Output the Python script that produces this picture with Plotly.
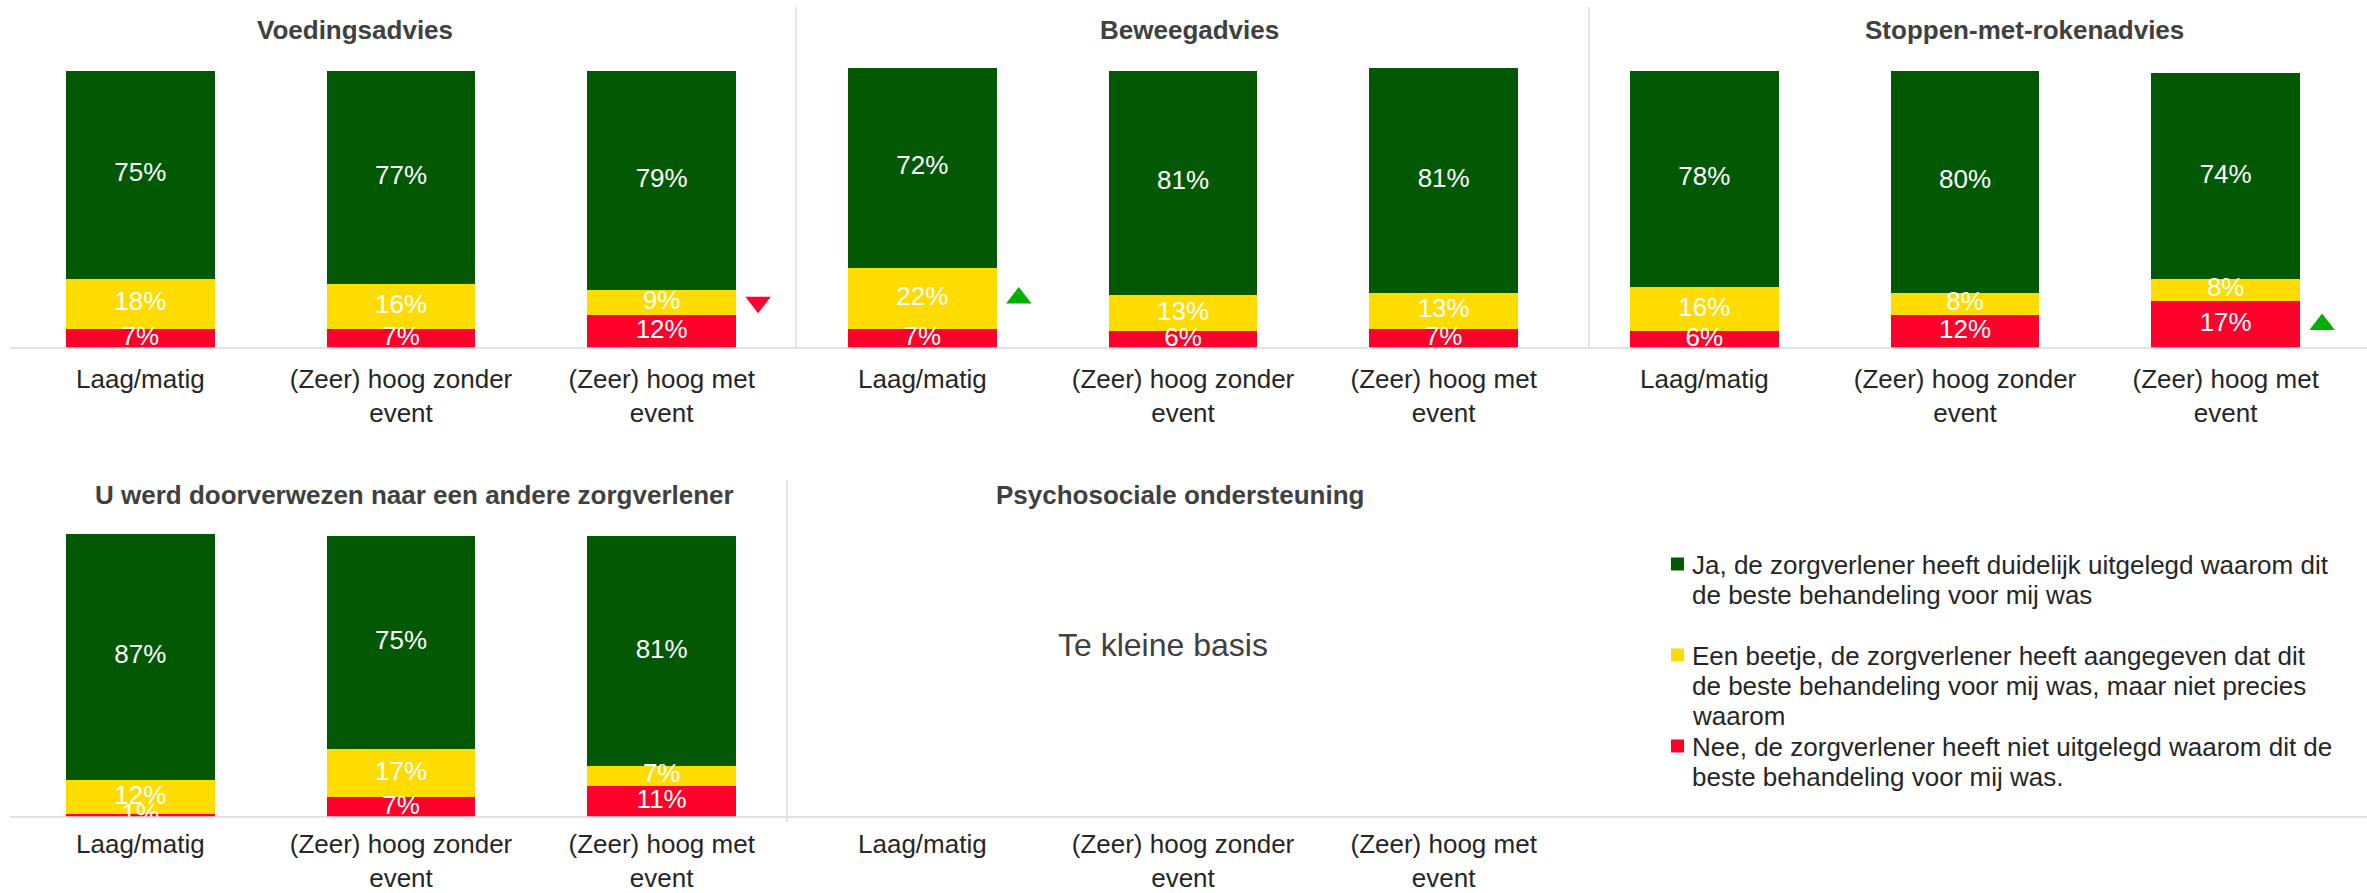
import plotly.graph_objects as go

# ---- data ---------------------------------------------------------------
categories = ["Laag/matig", "(Zeer) hoog zonder<br>event", "(Zeer) hoog met<br>event"]

panel_titles = [
    "Voedingsadvies",
    "Beweegadvies",
    "Stoppen-met-rokenadvies",
    "U werd doorverwezen naar een andere zorgverlener",
    "Psychosociale ondersteuning",
]

# stacked from bottom to top: Nee (red), Een beetje (yellow), Ja (green)
voeding_nee = [7, 7, 12]
voeding_beetje = [18, 16, 9]
voeding_ja = [75, 77, 79]

beweeg_nee = [7, 6, 7]
beweeg_beetje = [22, 13, 13]
beweeg_ja = [72, 81, 81]

roken_nee = [6, 12, 17]
roken_beetje = [16, 8, 8]
roken_ja = [78, 80, 74]

verwijs_nee = [1, 7, 11]
verwijs_beetje = [12, 17, 7]
verwijs_ja = [87, 75, 81]

small_base_text = "Te kleine basis"

legend_lines = [
    ["Ja, de zorgverlener heeft duidelijk uitgelegd waarom dit",
     "de beste behandeling voor mij was"],
    ["Een beetje, de zorgverlener heeft aangegeven dat dit",
     "de beste behandeling voor mij was, maar niet precies",
     "waarom"],
    ["Nee, de zorgverlener heeft niet uitgelegd waarom dit de",
     "beste behandeling voor mij was."],
]

# significant differences: (panel index, category index, segment, direction)
sig_markers = [
    (0, 2, "beetje", "down"),
    (1, 0, "beetje", "up"),
    (2, 2, "nee", "up"),
]

# ---- styling ------------------------------------------------------------
W, H = 2367, 893
FONT = "Liberation Sans, Arial, sans-serif"
GREEN = "#035903"
YELLOW = "#FFDC00"
RED = "#FF002B"
UP_COLOR = "#00B000"
DOWN_COLOR = "#FF0033"
GRID = "#D9D9D9"
TEXT_DARK = "#262626"
TITLE_COL = "#404040"
FS = 26

seg_colors = {"nee": RED, "beetje": YELLOW, "ja": GREEN}
legend_colors = [GREEN, YELLOW, RED]

def px(x):
    return x / W

def py(y):
    return 1 - y / H

# plot geometry (pixels)
X_DOMAINS = [(10, 792), (792, 1574), (1574, 2356)]
TOP_BASE, TOP_PX = 348, 2.774
BOT_BASE, BOT_PX = 817, 2.834
YMAX = 110
STANDOFF = {0: 13, 1: 9}

panels = [
    dict(data=dict(nee=voeding_nee, beetje=voeding_beetje, ja=voeding_ja), row=0, col=0),
    dict(data=dict(nee=beweeg_nee, beetje=beweeg_beetje, ja=beweeg_ja), row=0, col=1),
    dict(data=dict(nee=roken_nee, beetje=roken_beetje, ja=roken_ja), row=0, col=2),
    dict(data=dict(nee=verwijs_nee, beetje=verwijs_beetje, ja=verwijs_ja), row=1, col=0),
    dict(data=None, row=1, col=1),
]

title_pos = [(355, 30), (1189, 30), (2024, 30), (414, 495), (1180, 495)]

fig = go.Figure()
layout = dict(
    width=W, height=H,
    margin=dict(l=0, r=0, t=0, b=0, autoexpand=False),
    paper_bgcolor="white", plot_bgcolor="white",
    barmode="stack", bargap=0.43,
    showlegend=False,
    font=dict(family=FONT, size=FS, color=TEXT_DARK),
)

annotations = []
shapes = []

for i, p in enumerate(panels):
    n = i + 1
    xa = "x" if n == 1 else f"x{n}"
    ya = "y" if n == 1 else f"y{n}"
    xkey = "xaxis" if n == 1 else f"xaxis{n}"
    ykey = "yaxis" if n == 1 else f"yaxis{n}"
    x0, x1 = X_DOMAINS[p["col"]]
    base, scale = (TOP_BASE, TOP_PX) if p["row"] == 0 else (BOT_BASE, BOT_PX)
    layout[xkey] = dict(
        domain=[px(x0), px(x1)], anchor=ya, range=[-0.5, 2.5],
        tickmode="array", tickvals=[0, 1, 2], ticktext=categories,
        showgrid=False, zeroline=False, showline=False, ticks="",
        tickfont=dict(family=FONT, size=FS, color=TEXT_DARK),
        ticklabelstandoff=STANDOFF[p["row"]], automargin=False, fixedrange=True,
    )
    layout[ykey] = dict(
        domain=[py(base), py(base - YMAX * scale)], anchor=xa, range=[0, YMAX],
        visible=False, automargin=False, fixedrange=True,
    )

    if p["data"] is not None:
        cum = [0, 0, 0]
        mids = {}
        for seg in ["nee", "beetje", "ja"]:
            vals = p["data"][seg]
            fig.add_trace(go.Bar(
                x=[0, 1, 2], y=vals, xaxis=xa, yaxis=ya,
                marker=dict(color=seg_colors[seg], line=dict(width=0)),
                hoverinfo="skip",
            ))
            mids[seg] = [c + v / 2 for c, v in zip(cum, vals)]
            fig.add_trace(go.Scatter(
                x=[0, 1, 2], y=mids[seg], xaxis=xa, yaxis=ya,
                mode="text", text=[f"{v}%" for v in vals],
                textposition="middle center",
                textfont=dict(family=FONT, size=FS, color="white"),
                cliponaxis=True, hoverinfo="skip",
            ))
            cum = [c + v for c, v in zip(cum, vals)]
        for (pi, ci, seg, direction) in sig_markers:
            if pi != i:
                continue
            fig.add_trace(go.Scatter(
                x=[ci + 0.37], y=[mids[seg][ci]], xaxis=xa, yaxis=ya,
                mode="markers",
                marker=dict(
                    symbol="triangle-up" if direction == "up" else "triangle-down",
                    size=22,
                    color=UP_COLOR if direction == "up" else DOWN_COLOR,
                    line=dict(width=0),
                ),
                cliponaxis=False, hoverinfo="skip",
            ))
    else:
        # empty panel keeps its category axis
        fig.add_trace(go.Bar(x=[0, 1, 2], y=[0, 0, 0], xaxis=xa, yaxis=ya,
                             marker=dict(color="rgba(0,0,0,0)"), hoverinfo="skip"))
        annotations.append(dict(
            x=px(1163), y=py(645), xref="paper", yref="paper",
            text=small_base_text, showarrow=False,
            font=dict(family=FONT, size=32, color=TITLE_COL),
            xanchor="center", yanchor="middle",
        ))

    tx, ty = title_pos[i]
    annotations.append(dict(
        x=px(tx), y=py(ty), xref="paper", yref="paper",
        text=f"<b>{panel_titles[i]}</b>", showarrow=False,
        font=dict(family=FONT, size=FS, color=TITLE_COL),
        xanchor="center", yanchor="middle",
    ))

# baselines and panel separators
for yb in (TOP_BASE, BOT_BASE):
    shapes.append(dict(type="line", xref="paper", yref="paper",
                       x0=px(10), x1=1, y0=py(yb), y1=py(yb),
                       line=dict(color=GRID, width=1.5), layer="above"))
for xs in (796, 1589):
    shapes.append(dict(type="line", xref="paper", yref="paper",
                       x0=px(xs), x1=px(xs), y0=py(7), y1=py(TOP_BASE),
                       line=dict(color=GRID, width=1.3)))
shapes.append(dict(type="line", xref="paper", yref="paper",
                   x0=px(787), x1=px(787), y0=py(480), y1=py(822),
                   line=dict(color=GRID, width=1.3)))

# legend: coloured squares with wrapped labels
legend_first_line = [565, 656, 747]
LINE_STEP = 30
for k, lines in enumerate(legend_lines):
    y0 = legend_first_line[k]
    shapes.append(dict(type="rect", xref="paper", yref="paper",
                       x0=px(1671), x1=px(1684), y0=py(y0 - 7.5), y1=py(y0 + 5.5),
                       fillcolor=legend_colors[k], line=dict(width=0)))
    for j, line in enumerate(lines):
        annotations.append(dict(
            x=px(1690), y=py(y0 + j * LINE_STEP), xref="paper", yref="paper",
            text=line, showarrow=False, xanchor="left", yanchor="middle",
            font=dict(family=FONT, size=FS, color=TEXT_DARK),
        ))

layout["annotations"] = annotations
layout["shapes"] = shapes
fig.update_layout(**layout)

fig.write_html("out.html")
